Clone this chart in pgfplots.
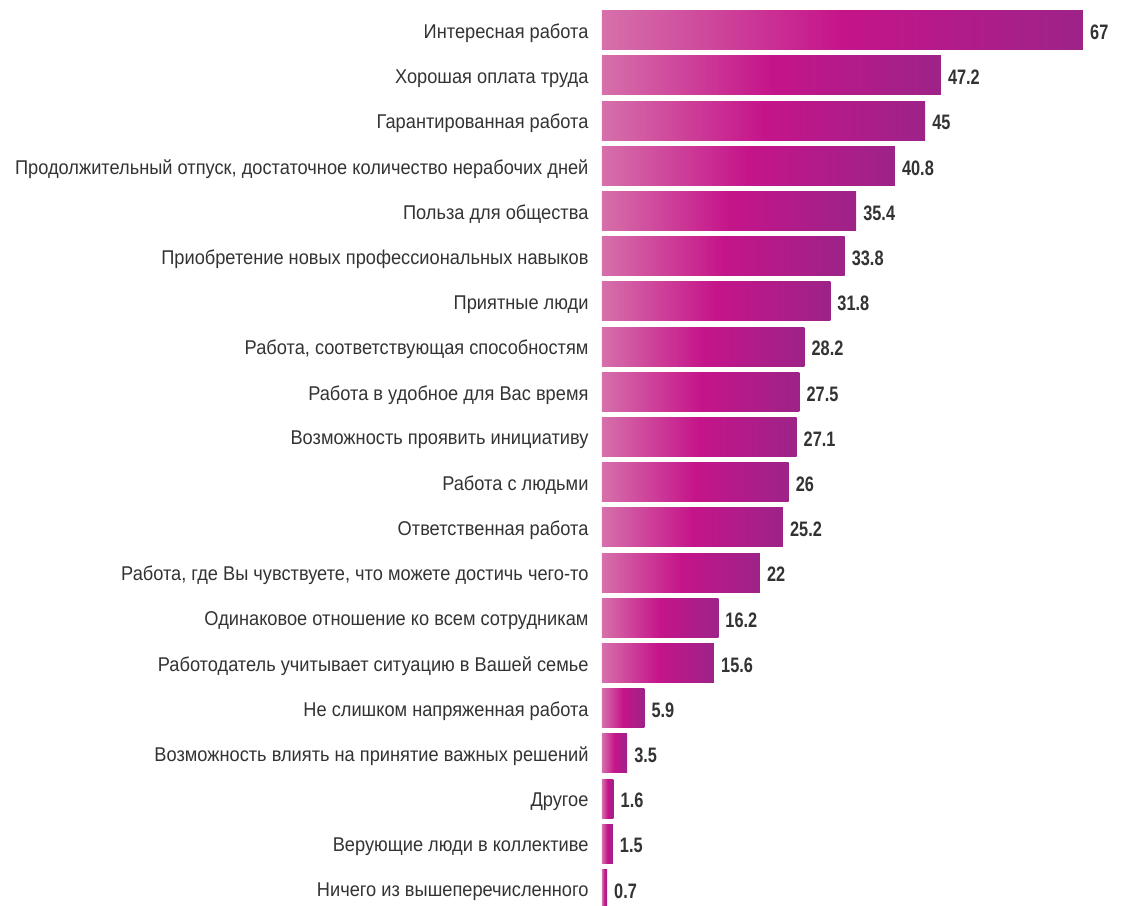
\documentclass[border=0pt]{standalone}
\usepackage{fontspec}
\setmainfont{Liberation Sans}[FakeStretch=0.915]
\newfontfamily\numfont{Liberation Sans}[FakeStretch=0.78]
\usepackage{pgfplots}
\pgfplotsset{compat=1.18}
\definecolor{barL}{RGB}{214,112,170}
\definecolor{barM}{RGB}{197,20,138}
\definecolor{barR}{RGB}{157,35,137}
\definecolor{txt}{RGB}{51,51,51}
\newcommand{\gbar}[2]{\addplot[xbar, bar shift=0pt, draw=none, left color=barL, right color=barR, middle color=barM] coordinates {(#1,#2)};}
\begin{document}
\begin{tikzpicture}
\begin{axis}[
 scale only axis, width=481bp, height=904bp,
 xmin=0, xmax=67, ymin=-0.5, ymax=19.5, y dir=reverse,
 xbar, bar width=39bp,
 axis line style={draw=none}, major tick length=0pt,
 xtick=\empty,
 ytick={0,...,19},
 yticklabels={
 Интересная работа,
 Хорошая оплата труда,
 Гарантированная работа,
 {Продолжительный отпуск, достаточное количество нерабочих дней},
 Польза для общества,
 Приобретение новых профессиональных навыков,
 Приятные люди,
 {Работа, соответствующая способностям},
 Работа в удобное для Вас время,
 Возможность проявить инициативу,
 Работа с людьми,
 Ответственная работа,
 {Работа, где Вы чувствуете, что можете достичь чего-то},
 Одинаковое отношение ко всем сотрудникам,
 Работодатель учитывает ситуацию в Вашей семье,
 Не слишком напряженная работа,
 Возможность влиять на принятие важных решений,
 Другое,
 Верующие люди в коллективе,
 Ничего из вышеперечисленного},
 yticklabel style={font=\fontsize{20}{23}\selectfont, text=txt, xshift=-10bp, yshift=-3bp},
 nodes near coords,
 nodes near coords style={font=\numfont\bfseries\fontsize{21}{23}\selectfont, text=txt, anchor=west, inner sep=0pt, xshift=7bp, yshift=-2bp},
 /pgf/number format/assume math mode=true,
 clip=false,
]
\gbar{67}{0}
\gbar{47.2}{1}
\gbar{45}{2}
\gbar{40.8}{3}
\gbar{35.4}{4}
\gbar{33.8}{5}
\gbar{31.8}{6}
\gbar{28.2}{7}
\gbar{27.5}{8}
\gbar{27.1}{9}
\gbar{26}{10}
\gbar{25.2}{11}
\gbar{22}{12}
\gbar{16.2}{13}
\gbar{15.6}{14}
\gbar{5.9}{15}
\gbar{3.5}{16}
\gbar{1.6}{17}
\gbar{1.5}{18}
\gbar{0.7}{19}
\end{axis}
\pgfresetboundingbox
\path (-602bp,5.6bp) rectangle (540bp,911.6bp);
\end{tikzpicture}
\end{document}
